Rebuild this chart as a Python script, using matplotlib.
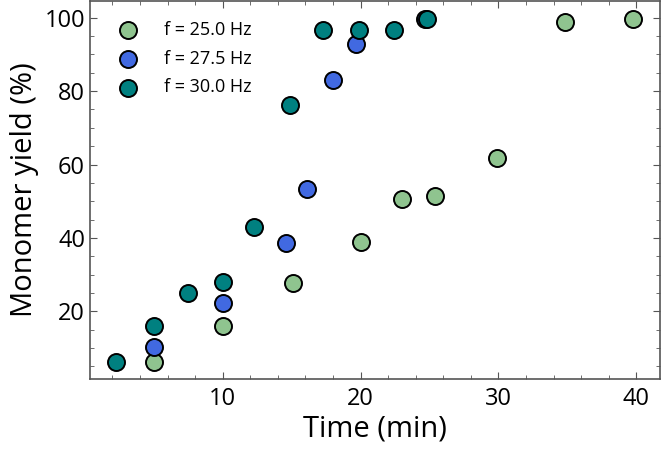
import numpy as np
import matplotlib.pyplot as plt
from matplotlib.ticker import MultipleLocator

plt.rcParams['font.family'] = ['Open Sans', 'DejaVu Sans']

# f = 25.0 Hz
t_25 = [5, 10, 15.1, 20, 23.0, 25.4, 29.9, 34.8, 39.8]
y_25 = [6.1, 15.9, 27.6, 39.0, 50.7, 51.3, 61.9, 98.9, 99.7]

# f = 27.5 Hz
t_27 = [5, 10, 14.6, 16.1, 18.0, 19.7, 24.7]
y_27 = [10.2, 22.2, 38.5, 53.2, 83.1, 92.9, 99.8]

# f = 30.0 Hz
t_30 = [2.25, 5, 7.5, 10, 12.3, 14.9, 17.3, 19.9, 22.4, 24.8]
y_30 = [6.1, 16.0, 24.9, 27.9, 42.9, 76.3, 96.7, 96.7, 96.7, 99.7]

labels = ['f = 25.0 Hz', 'f = 27.5 Hz', 'f = 30.0 Hz']
colors = ['#8fc48f', '#4169e1', '#008080']

fig = plt.figure(figsize=(6.61, 4.54), dpi=100)
ax = fig.add_axes([0.136, 0.165, 0.862, 0.833])

for t, y, lab, c in zip([t_25, t_27, t_30], [y_25, y_27, y_30], labels, colors):
    ax.scatter(t, y, s=150, c=c, edgecolors='black', linewidths=1.4,
               label=lab, zorder=3)

ax.set_xlim(0.36, 41.7)
ax.set_ylim(1.5, 104.6)
ax.set_xticks([10, 20, 30, 40])
ax.set_yticks([20, 40, 60, 80, 100])
ax.xaxis.set_minor_locator(MultipleLocator(2))
ax.yaxis.set_minor_locator(MultipleLocator(5))
ax.tick_params(which='both', direction='in', top=True, right=True,
               color='#555555', labelsize=17)
ax.tick_params(which='major', length=5)
ax.tick_params(which='minor', length=3)
ax.tick_params(axis='x', pad=6)
for sp in ax.spines.values():
    sp.set_color('#555555')
    sp.set_linewidth(1.2)

ax.set_xlabel('Time (min)', fontsize=21, labelpad=2)
ax.set_ylabel('Monomer yield (%)', fontsize=21, labelpad=4)

ax.legend(loc='upper left', frameon=False, fontsize=13, handletextpad=1.0,
          labelspacing=0.6, borderaxespad=0.8, borderpad=0.3,
          scatterpoints=1)

fig.savefig('out.png', dpi=100)
